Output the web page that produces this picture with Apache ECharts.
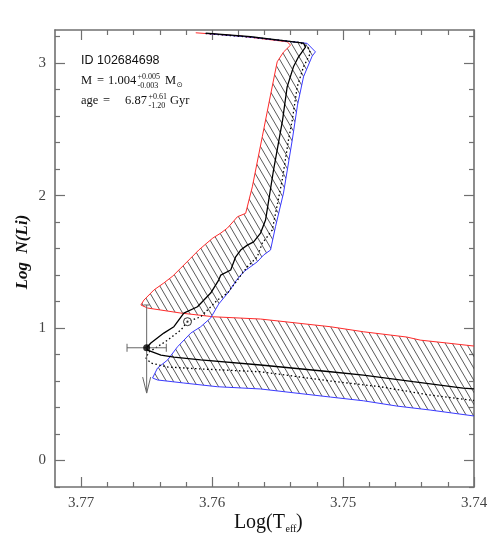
<!DOCTYPE html>
<html><head><meta charset="utf-8">
<script src="https://cdn.jsdelivr.net/npm/echarts@6/dist/echarts.min.js"></script>
<style>html,body{margin:0;padding:0;background:#fff}#c{width:501px;height:545px}</style>
</head><body><div id="c"></div>
<script>
// ---- tick values ----
const xMajor = [3.74, 3.75, 3.76, 3.77];
const xMinor = [3.742, 3.744, 3.746, 3.748, 3.752, 3.754, 3.756, 3.758, 3.762, 3.764, 3.766, 3.768];
const yMajor = [0, 1, 2, 3];
const yMinor = [-0.2, 0.2, 0.4, 0.6, 0.8, 1.2, 1.4, 1.6, 1.8, 2.2, 2.4, 2.6, 2.8, 3.2];

// ---- envelope edges [logTeff, logN(Li)] ----
const redEdge = [[3.76125,3.229],[3.75782,3.204],[3.75427,3.161],[3.75401,3.136],[3.75455,3.083],[3.75503,3.010],
 [3.75554,2.759],[3.75617,2.444],[3.75693,2.066],[3.75744,1.866],[3.75807,1.840],[3.75835,1.808],[3.75883,1.755],
 [3.75934,1.717],[3.75995,1.679],[3.76049,1.634],[3.76102,1.589],[3.76163,1.528],[3.76239,1.453],[3.76300,1.393],
 [3.76369,1.340],[3.76445,1.287],[3.76521,1.211],[3.76544,1.174],[3.76493,1.151],[3.76239,1.113],[3.75988,1.085],
 [3.75630,1.068],[3.75097,1.010],[3.74845,0.972],[3.74513,0.932],[3.74411,0.909],[3.74208,0.887],[3.74000,0.864]];
const blueEdge = [[3.76049,3.224],[3.75706,3.196],[3.75274,3.149],[3.75211,3.085],[3.75236,3.053],[3.75302,2.897],
 [3.75348,2.683],[3.75388,2.419],[3.75455,2.019],[3.75516,1.765],[3.75554,1.589],[3.75607,1.551],[3.75655,1.500],
 [3.75759,1.425],[3.75813,1.362],[3.75874,1.272],[3.75950,1.181],[3.76011,1.076],[3.76087,1.010],[3.76163,0.962],
 [3.76264,0.859],[3.76340,0.759],[3.76417,0.698],[3.76455,0.623],[3.76417,0.608],[3.76216,0.585],[3.75960,0.557],
 [3.75630,0.540],[3.75097,0.479],[3.74845,0.451],[3.74589,0.411],[3.74335,0.381],[3.74000,0.336]];

// ---- tracks ----
const trackSolid = [[3.76049,3.226],[3.75706,3.200],[3.75302,3.151],[3.75287,3.121],[3.75340,3.048],[3.75379,2.972],
 [3.75427,2.821],[3.75462,2.570],[3.75531,2.193],[3.75592,1.815],[3.75630,1.717],[3.75683,1.651],[3.75731,1.626],
 [3.75782,1.589],[3.75820,1.538],[3.75858,1.438],[3.75934,1.400],[3.75950,1.362],[3.76011,1.264],[3.76112,1.161],
 [3.76216,1.113],[3.76292,1.010],[3.76369,0.962],[3.76468,0.887],[3.76500,0.851],[3.76493,0.834],[3.76391,0.796],
 [3.76292,0.781],[3.76087,0.759],[3.75630,0.721],[3.75097,0.670],[3.74845,0.645],[3.74465,0.595],[3.74084,0.547],[3.74000,0.540]];
const trackDotted = [[3.76049,3.223],[3.75706,3.196],[3.75325,3.155],[3.75264,3.113],[3.75249,3.076],[3.75302,2.972],
 [3.75350,2.821],[3.75388,2.570],[3.75417,2.419],[3.75465,2.117],[3.75541,1.740],[3.75579,1.689],[3.75617,1.642],
 [3.75655,1.538],[3.75731,1.463],[3.75807,1.362],[3.75883,1.264],[3.75960,1.211],[3.76087,1.085],[3.76188,1.048],
 [3.76239,0.985],[3.76340,0.909],[3.76417,0.859],[3.76483,0.819],[3.76506,0.774],[3.76468,0.736],[3.76340,0.706],
 [3.76087,0.691],[3.75630,0.670],[3.75097,0.600],[3.74716,0.557],[3.74335,0.494],[3.74000,0.453]];

// ---- observed star & model point ----
const starPoint = [3.7650, 0.851];
const starTeffErr = [0.0015];
const starLiRange = [1.174, 0.509];  // top of bar, arrow tip
const modelPoint = [[3.76188, 1.048]];

const bandPoly = redEdge.concat(blueEdge.slice().reverse());

// hatch pattern
const hatch = document.createElement('canvas');
hatch.width = 7; hatch.height = 12;
(function(){
  const g = hatch.getContext('2d');
  g.strokeStyle = '#3c3c3c'; g.lineWidth = 0.85;
  g.beginPath();
  [-7, 0, 7].forEach(o => { g.moveTo(o, 0); g.lineTo(o + 7, 12); });
  g.stroke();
})();

const AX = '#707070', LBL = '#444', SERIF = '"Liberation Serif", serif', SANS = '"Liberation Sans", sans-serif';

function xAx(pos, vals, len, labels, line) {
  return {type:'value', position:pos, inverse:true, min:3.74, max:3.772,
    axisLine:{show:line, onZero:false, lineStyle:{color:AX, width:1.6}},
    axisTick:{show:true, inside:true, length:len, customValues:vals, lineStyle:{color:AX, width:1.2}},
    axisLabel:{show:labels, customValues:vals, formatter:v=>v.toFixed(2), margin:9, color:LBL, fontFamily:SERIF, fontSize:15},
    splitLine:{show:false}};
}
function yAx(pos, vals, len, labels, line) {
  return {type:'value', position:pos, min:-0.2, max:3.25,
    axisLine:{show:line, onZero:false, lineStyle:{color:AX, width:1.6}},
    axisTick:{show:true, inside:true, length:len, customValues:vals, lineStyle:{color:AX, width:1.2}},
    axisLabel:{show:labels, customValues:vals, formatter:v=>String(v), margin:9, color:LBL, fontFamily:SERIF, fontSize:15},
    splitLine:{show:false}};
}

function txt(x, y, s, font, extra) {
  return {type:'text', x:x, y:y, style:Object.assign({text:s, font:font, fill:'#111', textVerticalAlign:'middle'}, extra || {})};
}
const F = '12.5px ' + SERIF, FS = '8px ' + SERIF;

const chart = echarts.init(document.getElementById('c'));
chart.setOption({
  animation:false,
  backgroundColor:'#fff',
  grid:{left:55, right:27, top:30, bottom:58},
  xAxis:[xAx('bottom', xMajor, 10, true, true), xAx('bottom', xMinor, 5, false, false),
         xAx('top', xMajor, 10, false, true), xAx('top', xMinor, 5, false, false)],
  yAxis:[yAx('left', yMajor, 10, true, true), yAx('left', yMinor, 5, false, false),
         yAx('right', yMajor, 10, false, true), yAx('right', yMinor, 5, false, false)],
  graphic:[
    txt(81, 61, 'ID 102684698', '12.5px ' + SANS),
    txt(81, 81, 'M', F), txt(97, 81, '=', F), txt(108, 81, '1.004', F),
    txt(137.5, 77, '+0.005', FS), txt(137.5, 86, '-0.003', FS),
    txt(165, 81, 'M', F), txt(176.5, 85, '\u2299', '7.5px "DejaVu Sans"'),
    txt(81, 101, 'age', F), txt(103, 101, '=', F), txt(125, 101, '6.87', F),
    txt(148.5, 97, '+0.61', FS), txt(148.5, 106, '-1.20', FS),
    txt(170, 101, 'Gyr', F),
    txt(285, 523, 'Log(T', '20px ' + SERIF, {textAlign:'right'}),
    txt(285.5, 529, 'eff', '10px ' + SERIF),
    txt(296, 523, ')', '20px ' + SERIF),
    {type:'text', x:23, y:252, rotation:Math.PI/2, style:{text:'Log  N(Li)', font:'italic bold 17px ' + SERIF, fill:'#111', textAlign:'center', textVerticalAlign:'middle'}}
  ],
  series:[
    {type:'custom', silent:true, z:1, clip:true, data:[bandPoly[0]],
     renderItem:(p, api) => p.dataIndex !== 0 ? null : {
       type:'polygon', shape:{points:bandPoly.map(pt => api.coord(pt))},
       style:{fill:{image:hatch, repeat:'repeat'}, stroke:null}}},
    {type:'line', data:redEdge, showSymbol:false, z:2, lineStyle:{color:'#ff2a2a', width:1}},
    {type:'line', data:blueEdge, showSymbol:false, z:2, lineStyle:{color:'#3a3aff', width:1}},
    {type:'line', data:trackSolid, showSymbol:false, z:3, lineStyle:{color:'#000', width:1.3}},
    {type:'line', data:trackDotted, showSymbol:false, z:3, lineStyle:{color:'#000', width:1.3, type:[1.5, 2.5]}},
    {type:'custom', silent:true, z:4, data:[starPoint],
     renderItem:(p, api) => {
       const l = api.coord([starPoint[0] + starTeffErr[0], starPoint[1]]);
       const r = api.coord([starPoint[0] - starTeffErr[0], starPoint[1]]);
       const t = api.coord([starPoint[0], starLiRange[0]]);
       const b = api.coord([starPoint[0], starLiRange[1]]);
       const st = {stroke:'#666', lineWidth:1, fill:null};
       return {type:'group', children:[
         {type:'line', shape:{x1:l[0], y1:l[1], x2:r[0], y2:r[1]}, style:st},
         {type:'line', shape:{x1:l[0], y1:l[1]-4, x2:l[0], y2:l[1]+4}, style:st},
         {type:'line', shape:{x1:r[0], y1:r[1]-4, x2:r[0], y2:r[1]+4}, style:st},
         {type:'line', shape:{x1:t[0], y1:t[1], x2:b[0], y2:b[1]}, style:st},
         {type:'line', shape:{x1:t[0]-3, y1:t[1], x2:t[0]+3, y2:t[1]}, style:st},
         {type:'polyline', shape:{points:[[b[0]-4, b[1]-16], [b[0], b[1]], [b[0]+4, b[1]-16]]}, style:st}
       ]};
     }},
    {type:'scatter', data:[starPoint], z:5, symbol:'circle', symbolSize:7, itemStyle:{color:'#000'}},
    {type:'scatter', data:modelPoint, z:5, symbol:'circle', symbolSize:8, itemStyle:{color:'#fff', borderColor:'#000', borderWidth:1}},
    {type:'scatter', data:modelPoint, z:6, symbol:'circle', symbolSize:2.2, itemStyle:{color:'#000'}}
  ]
});
</script>
</body></html>
